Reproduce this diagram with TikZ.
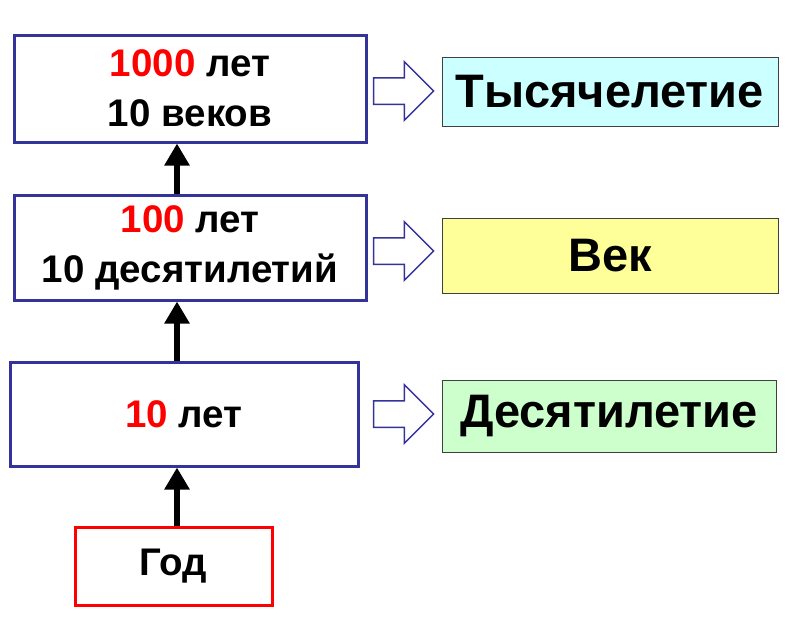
\documentclass[tikz,border=0pt]{standalone}
\usepackage{fontspec}
\setmainfont{Liberation Sans}
\usepackage{xcolor}
\usetikzlibrary{arrows.meta, positioning, shapes.arrows}
\definecolor{framenavy}{RGB}{51,51,153}
\definecolor{numred}{RGB}{255,0,0}
\definecolor{termcyan}{RGB}{204,255,255}
\definecolor{termyellow}{RGB}{255,255,153}
\definecolor{termgreen}{RGB}{204,255,204}

\tikzset{
  unitbox/.style={draw=framenavy, line width=3pt, fill=white, align=center,
    font=\fontsize{38.5}{50}\selectfont\bfseries, inner sep=0pt},
  termbox/.style={draw=black!75, line width=1pt, align=center,
    font=\fontsize{47}{52}\selectfont\bfseries, inner sep=0pt,
    minimum width=336pt},
  hollow/.style={single arrow, draw=framenavy, line width=1.5pt, fill=white,
    minimum width=57pt, minimum height=60pt, single arrow head extend=16pt,
    single arrow head indent=0pt, inner xsep=0pt, inner ysep=12.5pt},
  uparrow/.style={line width=6pt, -{Triangle[width=24pt,length=22pt]}}
}

\begin{document}
\begin{tikzpicture}[x=1pt, y=-1pt]
  \useasboundingbox (0,0) rectangle (800,621);

  % left column
  \node[unitbox, minimum width=352pt, minimum height=107pt] (mill) at (190,88.5)
    {\textcolor{numred}{1000} лет\\10 веков};
  \node[unitbox, minimum width=352pt, minimum height=105pt] (cent) at (190,247.5)
    {\textcolor{numred}{100} лет\\10 десятилетий};
  \node[unitbox, minimum width=348pt, minimum height=104pt] (dec) at (184,414)
    {\textcolor{numred}{10} лет};
  \node[unitbox, draw=numred, minimum width=197pt, minimum height=78pt] (year) at (173.5,566)
    {Год};

  % up arrows
  \coordinate (arrx) at (177,0);
  \draw[uparrow] (year.north -| arrx) -- (dec.south -| arrx);
  \draw[uparrow] (dec.north -| arrx) -- (cent.south -| arrx);
  \draw[uparrow] (cent.north -| arrx) -- (mill.south -| arrx);

  % terms
  \node[termbox, fill=termcyan, minimum height=69pt] (tmill) at (610,91.5) {Тысячелетие};
  \node[termbox, fill=termyellow, minimum height=75pt] (tcent) at (610,255.5) {Век};
  \node[termbox, fill=termgreen, minimum width=334pt, minimum height=72pt] (tdec) at (609,416) {Десятилетие};

  % hollow arrows
  \node[hollow] (hmill) at (397,91) {};
  \node[hollow] (hcent) at (397,251) {};
  \node[hollow] (hdec) at (397,414) {};
\end{tikzpicture}
\end{document}
